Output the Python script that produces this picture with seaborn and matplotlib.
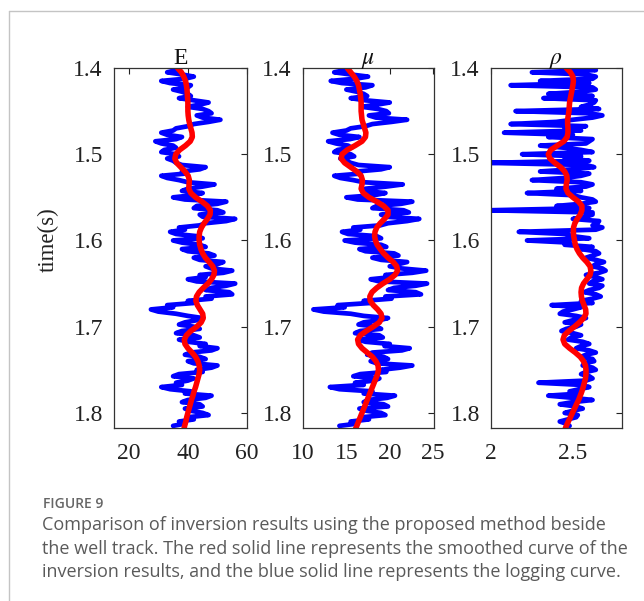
import numpy as np
import pandas as pd
import matplotlib
matplotlib.use("Agg")
import matplotlib.pyplot as plt
from matplotlib.lines import Line2D
import seaborn as sns

# ---------------- data ----------------
T_START, T_END = 1.400, 1.815          # logging samples every 0.0025 s
S_START, S_END = 1.400, 1.820          # smoothed curve samples every 0.005 s

E_log = [37, 36, 33, 38, 42, 39, 31, 34, 41, 40, 35, 38, 40, 41, 37, 42, 47, 44, 40, 45,
         47, 48, 43, 45, 51, 47, 42, 40, 36, 35, 31, 33, 38, 36, 29, 31, 35, 36, 32, 31,
         36, 37, 33, 35, 36, 38, 46, 44, 38, 39, 31, 33, 37, 40, 49, 45, 40, 38, 45, 42,
         35, 39, 53, 50, 43, 42, 50, 52, 44, 45, 56, 53, 46, 44, 37, 39, 34, 36, 43, 45,
         35, 38, 44, 46, 38, 40, 47, 49, 42, 44, 52, 50, 46, 48, 55, 52, 44, 46, 40, 43,
         56, 53, 48, 46, 54, 55, 46, 48, 40, 42, 33, 35, 27.5, 30, 36, 40, 45, 43, 39, 37,
         42, 44, 38, 36, 42, 44, 37, 40, 46, 44, 50, 48, 41, 39, 44, 46, 40, 42, 50, 48,
         43, 45, 37, 35, 42, 40, 36, 38, 31, 34, 41, 39, 48, 46, 40, 38, 44, 45, 39, 41,
         45, 47, 40, 42, 37, 39, 35]
E_smooth = [36.5, 37.8, 38.6, 39.2, 39.5, 39.7, 39.8, 39.9, 40.0, 40.0, 40.0, 40.1, 40.3,
            40.6, 41.0, 41.4, 41.5, 40.8, 39.2, 37.2, 35.9, 35.6, 36.2, 37.6, 39.0, 40.1,
            40.5, 40.4, 40.3, 41.0, 42.6, 44.8, 46.6, 47.6, 47.5, 46.6, 45.5, 44.6, 44.0,
            43.8, 43.8, 44.0, 44.4, 45.0, 45.9, 47.2, 48.4, 49.0, 48.8, 48.0, 46.8, 45.2,
            43.8, 42.9, 42.7, 43.2, 44.1, 45.0, 45.2, 44.5, 43.0, 41.0, 39.5, 38.8, 39.0,
            40.0, 41.4, 42.6, 43.4, 43.8, 44.0, 43.8, 43.4, 43.0, 42.6, 42.1, 41.7, 41.2,
            40.8, 40.4, 40.0, 39.6, 39.3, 38.9, 38.6]

mu_log = [15.2, 14.8, 13.6, 15.5, 17.5, 16.0, 13.2, 14.5, 18.0, 17.2, 15.0, 16.2, 17.0,
          17.4, 15.5, 17.2, 20.0, 18.5, 16.8, 18.6, 19.6, 19.9, 17.6, 18.4, 22.0, 20.2,
          18.0, 17.2, 15.5, 15.0, 13.4, 14.2, 16.5, 15.4, 12.9, 13.8, 15.2, 15.6, 14.0,
          13.6, 15.5, 15.9, 14.3, 15.0, 15.5, 16.4, 20.0, 19.0, 16.2, 16.6, 13.6, 14.3,
          15.8, 17.0, 21.5, 19.6, 17.2, 16.8, 19.5, 18.2, 15.0, 16.3, 22.6, 21.3, 18.5,
          18.0, 21.6, 22.2, 19.0, 19.6, 23.4, 22.0, 19.8, 18.9, 15.8, 16.6, 14.5, 15.2,
          18.5, 19.0, 14.8, 16.0, 19.0, 19.6, 16.5, 17.2, 20.5, 21.0, 18.0, 19.0, 22.0,
          21.0, 20.0, 21.4, 24.2, 22.6, 19.5, 20.2, 17.8, 18.8, 24.3, 23.0, 20.5, 19.8,
          23.0, 23.6, 19.5, 20.2, 17.0, 17.8, 14.0, 14.8, 11.2, 12.4, 15.5, 17.0, 19.8,
          18.8, 17.0, 16.4, 18.5, 19.0, 16.6, 16.0, 18.8, 19.2, 16.4, 17.2, 20.0, 19.4,
          22.3, 21.4, 18.0, 17.4, 19.3, 19.8, 17.8, 18.5, 22.6, 21.2, 19.0, 19.6, 16.6,
          15.8, 18.8, 18.2, 16.0, 17.0, 13.1, 14.2, 18.0, 17.0, 20.6, 19.7, 17.5, 17.0,
          19.3, 19.8, 16.5, 17.3, 19.0, 19.5, 16.8, 17.6, 15.5, 16.2, 14.2]
mu_smooth = [15.1, 15.5, 15.9, 16.2, 16.4, 16.5, 16.6, 16.65, 16.7, 16.7, 16.7, 16.75,
             16.8, 16.95, 17.1, 17.25, 17.2, 16.8, 16.0, 15.1, 14.5, 14.4, 14.8, 15.5,
             16.2, 16.7, 16.85, 16.8, 16.7, 16.95, 17.6, 18.5, 19.3, 19.8, 19.8, 19.4,
             18.9, 18.5, 18.3, 18.25, 18.35, 18.55, 18.9, 19.3, 19.8, 20.4, 20.8, 20.9,
             20.6, 20.0, 19.2, 18.5, 17.95, 17.7, 17.75, 18.1, 18.6, 19.0, 19.1, 18.8,
             18.1, 17.3, 16.6, 16.3, 16.4, 16.8, 17.4, 18.0, 18.4, 18.65, 18.7, 18.6,
             18.4, 18.2, 18.0, 17.8, 17.6, 17.4, 17.2, 17.0, 16.8, 16.6, 16.4, 16.2, 16.0]

rho_log = [2.60, 2.64, 2.25, 2.58, 2.64, 2.62, 2.30, 2.60, 2.12, 2.62, 2.64, 2.55, 2.35,
           2.62, 2.32, 2.64, 2.63, 2.60, 2.55, 2.66, 2.15, 2.60, 2.68, 2.62, 2.50, 2.40,
           2.12, 2.58, 2.45, 2.55, 2.08, 2.50, 2.35, 2.62, 2.60, 2.58, 2.30, 2.45, 2.55,
           2.62, 2.19, 2.55, 2.45, 2.60, 1.99, 2.58, 2.63, 2.50, 2.30, 2.60, 2.55, 2.45,
           2.25, 2.55, 2.62, 2.58, 2.40, 2.55, 2.22, 2.50, 2.55, 2.62, 2.64, 2.55, 2.40,
           2.60, 1.99, 2.62, 2.62, 2.58, 2.50, 2.66, 2.65, 2.62, 2.68, 2.64, 2.17, 2.45,
           2.50, 2.60, 2.22, 2.48, 2.45, 2.62, 2.55, 2.64, 2.66, 2.62, 2.58, 2.64, 2.69,
           2.64, 2.62, 2.68, 2.70, 2.66, 2.58, 2.64, 2.68, 2.62, 2.60, 2.68, 2.66, 2.60,
           2.57, 2.64, 2.67, 2.62, 2.55, 2.62, 2.37, 2.55, 2.50, 2.44, 2.42, 2.52, 2.58,
           2.50, 2.45, 2.55, 2.52, 2.46, 2.43, 2.50, 2.55, 2.49, 2.47, 2.56, 2.60, 2.55,
           2.52, 2.60, 2.64, 2.58, 2.55, 2.62, 2.63, 2.57, 2.56, 2.62, 2.64, 2.58, 2.55,
           2.60, 2.62, 2.58, 2.29, 2.55, 2.60, 2.54, 2.48, 2.55, 2.35, 2.50, 2.62, 2.50,
           2.42, 2.52, 2.56, 2.50, 2.45, 2.53, 2.52, 2.47, 2.42, 2.46, 2.48]
rho_smooth = [2.46, 2.485, 2.50, 2.503, 2.50, 2.495, 2.49, 2.485, 2.48, 2.478, 2.476,
              2.472, 2.468, 2.468, 2.470, 2.470, 2.465, 2.445, 2.405, 2.365, 2.35, 2.36,
              2.39, 2.425, 2.45, 2.463, 2.465, 2.46, 2.458, 2.47, 2.50, 2.535, 2.555,
              2.555, 2.545, 2.527, 2.512, 2.504, 2.503, 2.505, 2.51, 2.515, 2.525, 2.54,
              2.56, 2.585, 2.605, 2.61, 2.605, 2.585, 2.565, 2.553, 2.55, 2.552, 2.558,
              2.568, 2.578, 2.58, 2.566, 2.54, 2.51, 2.475, 2.448, 2.44, 2.45, 2.48, 2.515,
              2.545, 2.565, 2.577, 2.58, 2.58, 2.577, 2.57, 2.563, 2.555, 2.545, 2.535,
              2.522, 2.51, 2.497, 2.485, 2.472, 2.46, 2.45]

titles = ["E", r"$\mu$", r"$\rho$"]
xlims = [(15, 60), (10, 25.1), (2.0, 2.8)]
xticks = [[20, 40, 60], [10, 15, 20, 25], [2, 2.5]]
xticklabels = [["20", "40", "60"], ["10", "15", "20", "25"], ["2", "2.5"]]
yticks = [1.4, 1.5, 1.6, 1.7, 1.8]
yticklabels = ["1.4", "1.5", "1.6", "1.7", "1.8"]
ylabel = "time(s)"
caption_head = "FIGURE 9"
caption_lines = [
    "Comparison of inversion results using the proposed method beside",
    "the well track. The red solid line represents the smoothed curve of the",
    "inversion results, and the blue solid line represents the logging curve.",
]

# ---------------- style ----------------
sns.set_style("white")
plt.rcParams["font.family"] = ["Liberation Serif", "DejaVu Serif"]
plt.rcParams["mathtext.fontset"] = "stix"

W, H = 644, 601
fig = plt.figure(figsize=(W / 100, H / 100), dpi=100)

lefts = [114, 303, 491]
rights = [247, 434, 622]
top, bottom = 68, 428

logs = [E_log, mu_log, rho_log]
smooths = [E_smooth, mu_smooth, rho_smooth]

for i in range(3):
    ax = fig.add_axes([lefts[i] / W, 1 - bottom / H, (rights[i] - lefts[i]) / W, (bottom - top) / H])
    t_log = np.linspace(T_START, T_END, len(logs[i]))
    t_sm = np.linspace(S_START, S_END, len(smooths[i]))
    dlog = pd.DataFrame({"v": logs[i], "t": t_log})
    dsm = pd.DataFrame({"v": smooths[i], "t": t_sm})
    sns.lineplot(data=dlog, x="v", y="t", orient="y", sort=False, estimator=None,
                 color="#0000ff", lw=3.4, ax=ax)
    sns.lineplot(data=dsm, x="v", y="t", orient="y", sort=False, estimator=None,
                 color="#ff0000", lw=4.0, ax=ax)
    ax.set_xlim(*xlims[i])
    ax.set_ylim(1.8175, 1.4)
    ax.set_xticks(xticks[i])
    ax.set_xticklabels(xticklabels[i])
    ax.set_yticks(yticks)
    ax.set_yticklabels(yticklabels)
    ax.set_xlabel("")
    ax.set_ylabel("")
    ax.tick_params(direction="in", top=True, right=True, length=4, width=0.8,
                   labelsize=17, colors="#222222")
    ax.tick_params(axis="x", pad=11)
    ax.tick_params(axis="y", pad=8)
    for s in ax.spines.values():
        s.set_color("#333333")
        s.set_linewidth(0.9)
    ax.set_title(titles[i], fontsize=17, pad=3, color="#111111")

fig.text(48 / W, 1 - 240 / H, ylabel, rotation=90, ha="center", va="center",
         fontsize=16.5, color="#222222")

# caption
fig.text(43 / W, 1 - 508 / H, caption_head, ha="left", va="baseline",
         fontsize=10, color="#666666", family="Open Sans", weight="semibold")
for k, line in enumerate(caption_lines):
    fig.text(42 / W, 1 - (530 + 23.5 * k) / H, line, ha="left", va="baseline",
             fontsize=13.0, color="#5a5a5a", family="Open Sans")

# card frame (top and left edges)
fig.add_artist(Line2D([9 / W, 1], [1 - 11 / H, 1 - 11 / H], color="#c4c4c4", lw=1))
fig.add_artist(Line2D([9 / W, 9 / W], [0, 1 - 11 / H], color="#c4c4c4", lw=1))

fig.savefig("out.png", dpi=100)
